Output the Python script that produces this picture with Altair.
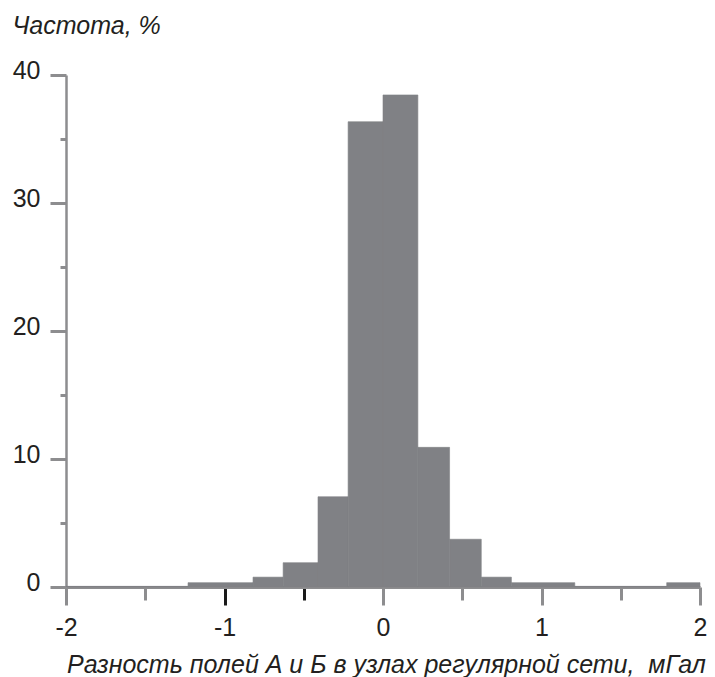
import altair as alt
import pandas as pd

# Histogram bins (mGal) and frequencies (%)
bin_lo = [-2.0, -1.23, -0.82, -0.63, -0.41, -0.22, 0.0, 0.22, 0.42, 0.62, 0.81, 1.21, 1.79]
bin_hi = [-1.23, -0.82, -0.63, -0.41, -0.22, 0.0, 0.22, 0.42, 0.62, 0.81, 1.21, 1.79, 2.0]
freq = [0.05, 0.34, 0.77, 1.9, 7.05, 36.35, 38.44, 10.91, 3.73, 0.77, 0.34, 0.05, 0.34]

x_ticks = [-2, -1.5, -1, -0.5, 0, 0.5, 1, 1.5, 2]
y_ticks = [0, 5, 10, 15, 20, 25, 30, 35, 40]

df = pd.DataFrame({"lo": bin_lo, "hi": bin_hi, "f": freq})

FONT = "Liberation Sans, Arial, Helvetica, sans-serif"
AXIS_GRAY = "#8d8d8f"
BAR = "#808185"
TEXT = "#231f20"

x_axis = alt.Axis(
    values=x_ticks,
    labelExpr="datum.value % 1 === 0 ? '' + datum.value : ''",
    labelFont=FONT, labelFontSize=25, labelColor=TEXT,
    labelBaseline="top", labelPadding=10, labelFlush=False,
    labelOverlap=False,
    tickSize={"condition": {"test": "datum.value % 1 === 0", "value": 18}, "value": 13},
    tickColor={"condition": {"test": "datum.value === -1 || datum.value === -0.5", "value": "#1a1a1a"}, "value": AXIS_GRAY},
    tickWidth=3,
    domainColor=AXIS_GRAY, domainWidth=3,
    grid=False,
    title="Разность полей А и Б в узлах регулярной сети,\u00a0 мГал",
    titleFont=FONT, titleFontSize=25, titleFontStyle="italic",
    titleFontWeight="normal", titleColor=TEXT,
    titleBaseline="alphabetic", titleY=85, titleX=320, titleAlign="center",
)

y_axis = alt.Axis(
    values=y_ticks,
    labelExpr="datum.value % 10 === 0 ? '' + datum.value : ''",
    labelFont=FONT, labelFontSize=25, labelColor=TEXT,
    labelBaseline="middle", labelOffset=-5, labelPadding=10,
    labelFlush=False, labelOverlap=False,
    tickSize={"condition": {"test": "datum.value % 10 === 0", "value": 16}, "value": 6},
    tickColor=AXIS_GRAY, tickWidth=3,
    domainColor=AXIS_GRAY, domainWidth=2.5,
    grid=False,
    title="Частота, %",
    titleFont=FONT, titleFontSize=25, titleFontStyle="italic",
    titleFontWeight="normal", titleColor=TEXT,
    titleAngle=0, titleAlign="left", titleBaseline="alphabetic",
    titleX=-54, titleY=-42,
)

chart = alt.Chart(df).mark_rect(color=BAR, stroke=BAR, strokeWidth=0.6).encode(
    x=alt.X("lo:Q", scale=alt.Scale(domain=[-2, 2], nice=False, zero=False), axis=x_axis),
    x2="hi:Q",
    y=alt.Y("f:Q", scale=alt.Scale(domain=[0, 40], nice=False), axis=y_axis),
    y2=alt.datum(0),
).properties(
    width=634,
    height=512,
    autosize=alt.AutoSizeParams(type="none"),
    padding={"left": 58, "top": 67, "right": 7, "bottom": 90},
).configure_view(stroke=None)

chart.save("out.html", embed_options={"renderer": "svg", "actions": False})
